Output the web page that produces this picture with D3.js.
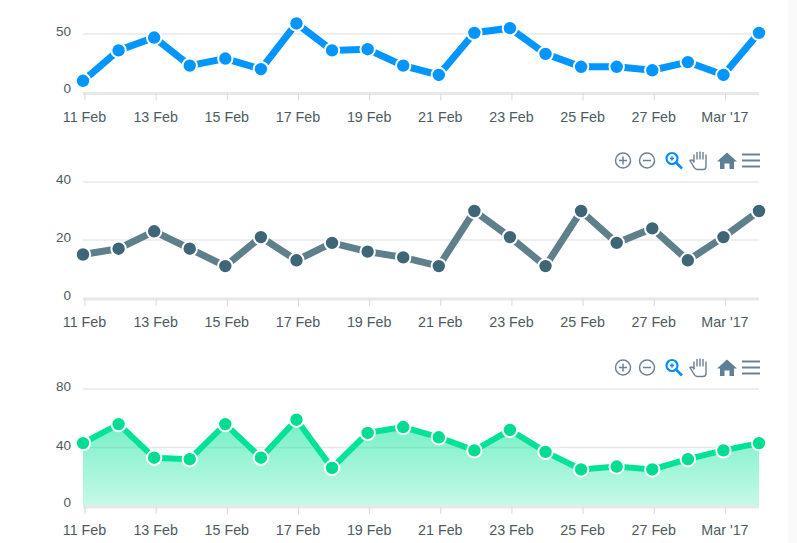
<!DOCTYPE html>
<html>
<head>
<meta charset="utf-8">
<script src="https://cdn.jsdelivr.net/npm/d3@7"></script>
<style>
html, body { margin: 0; padding: 0; background: #fff; overflow: hidden; }
text { font-family: "Liberation Sans", Arial, sans-serif; fill: #4d5a60; }
</style>
</head>
<body>
<svg id="chart" width="797" height="543"></svg>
<script>
var days = ["2017-02-11","2017-02-12","2017-02-13","2017-02-14","2017-02-15","2017-02-16","2017-02-17","2017-02-18","2017-02-19","2017-02-20",
  "2017-02-21","2017-02-22","2017-02-23","2017-02-24","2017-02-25","2017-02-26","2017-02-27","2017-02-28","2017-03-01","2017-03-02"];
var tickDays = ["2017-02-11","2017-02-13","2017-02-15","2017-02-17","2017-02-19","2017-02-21","2017-02-23","2017-02-25","2017-02-27","2017-03-01"];
var tickLabels = ["11 Feb","13 Feb","15 Feb","17 Feb","19 Feb","21 Feb","23 Feb","25 Feb","27 Feb","Mar '17"];

var blueValues = [10,36,47,23,29,20,59,36,37,23,15,51,55,33,22,22,19,26,15,51];
var greyValues = [15,17,23,17,11,21,13,19,16,14,11,30,21,11,30,19,24,13,21,30];
var greenValues = [43,56,33,32,56,33,59,26,50,54,47,38,52,37,25,27,25,32,38,43];

var blueTicks = [0,50];
var greyTicks = [0,20,40];
var greenTicks = [0,40,80];

var parseDay = d3.timeParse("%Y-%m-%d");
var dates = days.map(parseDay);

var x = d3.scaleTime()
  .domain([dates[0], dates[dates.length - 1]])
  .range([83, 759]);

var svg = d3.select("#chart");

// the pale strip down the right edge of the page
svg.append("rect").attr("x", 788).attr("y", 0).attr("width", 9).attr("height", 543).attr("fill", "#fafafa");

var defs = svg.append("defs");
var grad = defs.append("linearGradient")
  .attr("id", "greenFill")
  .attr("x1", 0).attr("y1", 0).attr("x2", 0).attr("y2", 1);
grad.append("stop").attr("offset", "0%").attr("stop-color", "#00e396").attr("stop-opacity", 0.55);
grad.append("stop").attr("offset", "100%").attr("stop-color", "#00e396").attr("stop-opacity", 0.22);

function drawChart(values, ticks, maxVal, y0, yTop, zeroShift, color, dotColor, lineWidth, hasArea) {
  var y = d3.scaleLinear().domain([0, maxVal]).range([y0, yTop]);
  var g = svg.append("g");

  g.selectAll(".grid")
    .data(ticks.filter(function(t){ return t > 0; }))
    .enter()
    .append("line")
    .attr("x1", 83).attr("x2", 759)
    .attr("y1", function(t){ return y(t); })
    .attr("y2", function(t){ return y(t); })
    .attr("stroke", "#e8e8e8")
    .attr("stroke-width", 1.5);

  if (hasArea) {
    var area = d3.area()
      .x(function(d, i){ return x(dates[i]); })
      .y0(y(0))
      .y1(function(d){ return y(d); });
    g.append("path")
      .datum(values)
      .attr("d", area)
      .attr("fill", "url(#greenFill)");
  }

  // x axis baseline and ticks
  var axis = d3.axisBottom(x)
    .tickValues(tickDays.map(parseDay))
    .tickFormat(function(d, i){ return tickLabels[i]; })
    .tickSize(7)
    .tickPadding(11);
  var ax = g.append("g")
    .attr("transform", "translate(0," + (y0 + 1) + ")")
    .call(axis);
  ax.select(".domain").attr("stroke", "#e8e8e8").attr("stroke-width", 3).attr("d", "M83,0H759");
  ax.selectAll(".tick line").attr("stroke", "#d8d8d8").attr("stroke-width", 1).attr("transform", "translate(1.5,0)");
  ax.selectAll(".tick text").attr("font-size", 14.3).attr("dx", 1).attr("fill", "#4d5a60");

  g.selectAll(".ylab")
    .data(ticks)
    .enter()
    .append("text")
    .attr("x", 71)
    .attr("y", function(t){ return y(t) + 2 - (t == 0 ? zeroShift : 0); })
    .attr("text-anchor", "end")
    .attr("font-size", 13.5)
    .text(function(t){ return t; });

  var line = d3.line()
    .x(function(d, i){ return x(dates[i]); })
    .y(function(d){ return y(d); });
  g.append("path")
    .datum(values)
    .attr("d", line)
    .attr("fill", "none")
    .attr("stroke", color)
    .attr("stroke-width", lineWidth);

  g.selectAll(".dot")
    .data(values)
    .enter()
    .append("circle")
    .attr("cx", function(d, i){ return x(dates[i]); })
    .attr("cy", function(d){ return y(d); })
    .attr("r", 7.2)
    .attr("fill", dotColor)
    .attr("stroke", "#fff")
    .attr("stroke-width", 2);
}

drawChart(blueValues, blueTicks, 50, 92.5, 34, 2, "#0095ff", "#0095ff", 7, false);
drawChart(greyValues, greyTicks, 40, 298, 182, 0, "#5f7f8a", "#3f6677", 7, false);
drawChart(greenValues, greenTicks, 80, 506, 389, 1, "#00e396", "#00dc90", 6, true);

// toolbar icons, same row above the 2nd and 3rd chart
function drawToolbar(top) {
  var t = svg.append("g").attr("transform", "translate(0," + top + ")");
  var c = "#6e8192";
  [623, 647].forEach(function(cx, i) {
    t.append("circle").attr("cx", cx).attr("cy", 0).attr("r", 7.5).attr("fill", "none").attr("stroke", c).attr("stroke-width", 1.5);
    t.append("line").attr("x1", cx - 4).attr("x2", cx + 4).attr("y1", 0).attr("y2", 0).attr("stroke", c).attr("stroke-width", 1.5);
    if (i == 0) t.append("line").attr("x1", cx).attr("x2", cx).attr("y1", -4).attr("y2", 4).attr("stroke", c).attr("stroke-width", 1.5);
  });
  // zoom
  t.append("circle").attr("cx", 672).attr("cy", -2).attr("r", 5.5).attr("fill", "none").attr("stroke", "#008ffb").attr("stroke-width", 2.2);
  t.append("line").attr("x1", 676).attr("y1", 2).attr("x2", 682).attr("y2", 8).attr("stroke", "#008ffb").attr("stroke-width", 2.5);
  t.append("path").attr("d", "M670,-2H674M672,-4V0").attr("stroke", "#008ffb").attr("stroke-width", 1.5);
  // hand
  t.append("path")
    .attr("d", "M694,2V-6M697,-1V-8.5M700,-1V-9M703,-1V-8.5M706,2V-6M706,2V6Q706,9 703,9H697Q695,9 693,5L690,0Q691,-1 693,0L694,2")
    .attr("fill", "none").attr("stroke", "#6e8192").attr("stroke-width", 1.4);
  // home
  t.append("path").attr("d", "M717,1L727,-8L737,1H734V8.5H729.5V3H724.5V8.5H720V1Z").attr("fill", "#5f7f96");
  // menu
  t.append("path").attr("d", "M742,-6H760M742,0H760M742,6H760").attr("stroke", "#6e8192").attr("stroke-width", 2.2);
}
drawToolbar(160.5);
drawToolbar(367.5);
</script>
</body>
</html>
